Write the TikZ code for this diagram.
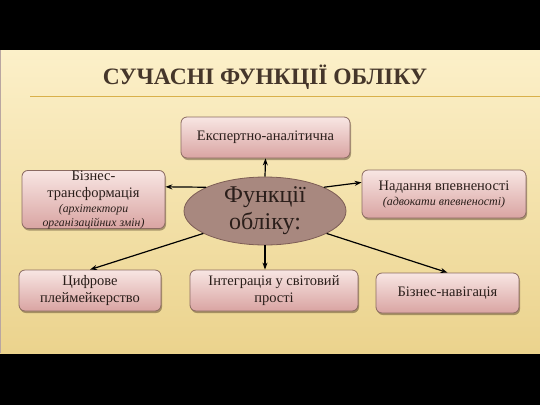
\documentclass[tikz,border=0pt]{standalone}
\usepackage{fontspec}
\setmainfont{Liberation Serif}
\usetikzlibrary{shapes.geometric,arrows.meta,shadows}
\definecolor{boxtop}{HTML}{F8E6E3}
\definecolor{boxbot}{HTML}{D9A4A2}
\definecolor{boxborder}{HTML}{8B6B62}
\definecolor{boxtext}{HTML}{2A1E1A}
\definecolor{ellfill}{HTML}{A8887F}
\definecolor{elldraw}{HTML}{7D5D55}
\definecolor{titlecol}{HTML}{45362A}
\definecolor{goldline}{HTML}{D9B04A}
\definecolor{bgtop}{HTML}{FCF0C9}
\definecolor{bgbot}{HTML}{EBD38D}
\begin{document}
\begin{tikzpicture}[x=1pt,y=-1pt,
  fbox/.style={draw=boxborder, line width=0.8pt, rounded corners=6pt,
    top color=boxtop, bottom color=boxbot, align=center,
    font=\fontsize{14.5}{17}\selectfont, text=boxtext, inner sep=0pt,
    drop shadow={shadow xshift=1pt,shadow yshift=-2pt,opacity=0.4,fill=black!70!brown}},
  conn/.style={-{Stealth[length=7pt,width=5pt]}, line width=1.2pt, black}]
\useasboundingbox (0,0) rectangle (540,405);
\fill[black] (0,0) rectangle (540,405);
\shade[top color=bgtop, bottom color=bgbot] (0,50) rectangle (540,353);
\draw[boxborder!60, line width=0.8pt] (0.5,50) -- (0.5,353);
\node[font=\fontsize{23.5}{26}\selectfont\bfseries, text=titlecol] (title) at (265,77) {СУЧАСНІ ФУНКЦІЇ ОБЛІКУ};
\coordinate (gl1) at (30,96);
\coordinate (gl2) at (540,96);
\draw[goldline, line width=1pt] (gl1) -- (gl2);

\node[ellipse, draw=elldraw, line width=0.8pt, fill=ellfill, minimum width=162pt, minimum height=57pt,
  align=center, font=\fontsize{24}{27}\selectfont, text=boxtext, inner sep=0pt] (e) at (265,211) {Функції\\обліку:};

\node[fbox, minimum width=169pt, minimum height=41pt] (ek) at (265.5,137.5) {Експертно-аналітична};
\node[fbox, minimum width=143pt, minimum height=57pt] (bt) at (93.5,199.5)
  {Бізнес-\\трансформація\\[-2pt]{\fontsize{11.8}{12}\selectfont\itshape (архітектори}\\[-3pt]{\fontsize{11.8}{12}\selectfont\itshape організаційних змін)}};
\node[fbox, minimum width=164pt, minimum height=48pt] (nd) at (444,194)
  {Надання впевненості\\[-2pt]{\fontsize{12}{12}\selectfont\itshape (адвокати впевненості)}};
\node[fbox, minimum width=142pt, minimum height=41pt] (ts) at (90,290.5) {Цифрове\\плеймейкерство};
\node[fbox, minimum width=168pt, minimum height=41pt] (in) at (274,290.5) {Інтеграція у світовий\\прості};
\node[fbox, minimum width=143pt, minimum height=40pt] (bn) at (447.5,293) {Бізнес-навігація};

\draw[conn] (e.north) -- (ek.south);
\draw[conn] (e.south) -- (e.south |- in.north);
\draw[conn] (e.158) -- (bt.10);
\draw[conn] (e.22) -- (nd.172);
\draw[conn] (e.200) -- (ts.north);
\draw[conn] (e.-20) -- (bn.north);
\end{tikzpicture}
\end{document}
